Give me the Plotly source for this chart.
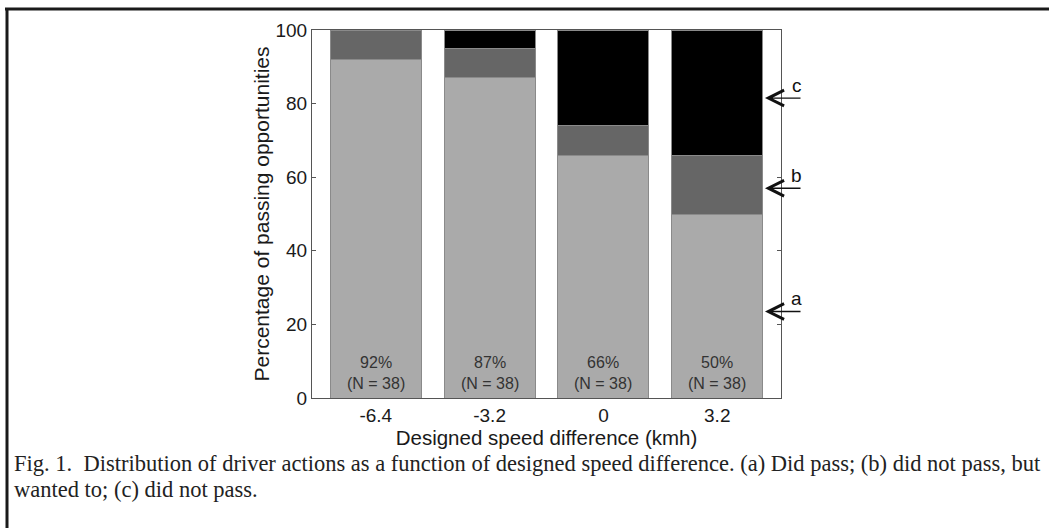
import plotly.graph_objects as go

categories = ["-6.4", "-3.2", "0", "3.2"]
did_pass = [92, 87, 66, 50]
wanted_to = [8, 8, 8, 16]
did_not_pass = [0, 5, 26, 34]
n_obs = [38, 38, 38, 38]
y_ticks = [0, 20, 40, 60, 80, 100]
arrow_levels = {"c": 81.5, "b": 57.0, "a": 23.5}

W, H = 1049, 528
L, R, T, B = 312, 781, 30, 398


def px(x):
    return (x - L) / (R - L)


def py(y):
    return (B - y) / (B - T)


fig = go.Figure()
series = [
    (did_pass, "#aaaaaa"),
    (wanted_to, "#666666"),
    (did_not_pass, "#000000"),
]
for vals, col in series:
    fig.add_trace(go.Bar(
        x=categories, y=vals, marker=dict(color=col, line=dict(color="#8a8a8a", width=1)),
        showlegend=False, hoverinfo="skip"))

for i, (v, n) in enumerate(zip(did_pass, n_obs)):
    fig.add_annotation(x=i, y=0, xref="x", yref="y", text=f"{v}%<br>(N = {n})",
                       showarrow=False, yanchor="bottom", yshift=4,
                       font=dict(family="Arial, Liberation Sans", size=16, color="#333333"))

for lab, lev in arrow_levels.items():
    fig.add_annotation(x=px(765), y=lev, xref="paper", yref="y", text="",
                       showarrow=True, ax=37, ay=0, arrowhead=5, arrowsize=2.2,
                       arrowwidth=1.4, arrowcolor="#111111")
    fig.add_annotation(x=px(804), y=lev, xref="paper", yref="y", text=lab,
                       showarrow=False, yshift=13,
                       font=dict(family="Arial, Liberation Sans", size=19, color="#111111"))

# outer frame (top and left)
fig.add_shape(type="line", xref="paper", yref="paper", x0=px(5), x1=px(1049), y0=py(9), y1=py(9),
              line=dict(color="#1a1a1a", width=3))
fig.add_shape(type="line", xref="paper", yref="paper", x0=px(7), x1=px(7), y0=py(9), y1=py(528),
              line=dict(color="#1a1a1a", width=3))

cap_font = dict(family="Liberation Serif, Times New Roman, serif", size=22.5, color="#222222")
fig.add_annotation(x=px(12), y=py(463), xref="paper", yref="paper", xanchor="left", yanchor="middle",
                   text="Fig. 1.  Distribution of driver actions as a function of designed speed difference. (a) Did pass; (b) did not pass, but",
                   showarrow=False, font=cap_font)
fig.add_annotation(x=px(12), y=py(489), xref="paper", yref="paper", xanchor="left", yanchor="middle",
                   text="wanted to; (c) did not pass.", showarrow=False, font=cap_font)

fig.update_layout(
    width=W, height=H, barmode="stack", bargap=0.2,
    margin=dict(l=L, r=W - R, t=T, b=H - B, autoexpand=False),
    paper_bgcolor="white", plot_bgcolor="white",
    font=dict(family="Arial, Liberation Sans", size=16, color="#1a1a1a"),
)
fig.update_xaxes(type="category", range=[-0.56, 3.56], showline=True, linecolor="#555555", linewidth=1.2,
                 mirror=True, ticks="", showgrid=False, tickfont=dict(size=19),
                 title=dict(text="Designed speed difference (kmh)", standoff=3, font=dict(size=20.5)))
fig.update_yaxes(range=[0, 100], tickvals=y_ticks, showline=True, linecolor="#555555", linewidth=1.2,
                 mirror="ticks", ticks="inside", ticklen=4, tickcolor="#555555", showgrid=False,
                 zeroline=False, tickfont=dict(size=19),
                 title=dict(text="Percentage of passing opportunities", standoff=0, font=dict(size=21)))

fig.write_html("out.html")
